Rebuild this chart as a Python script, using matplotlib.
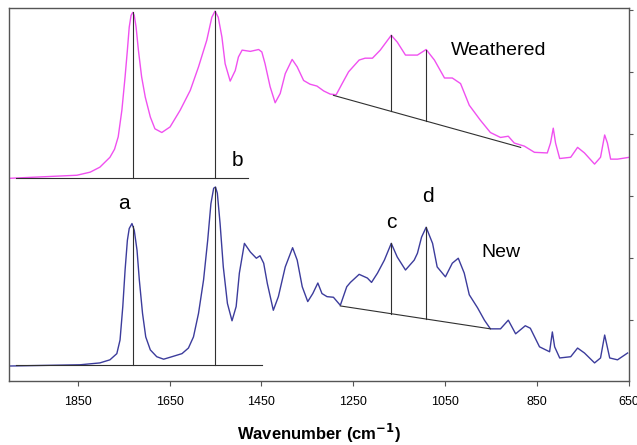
import numpy as np
import matplotlib
matplotlib.use("Agg")
import matplotlib.pyplot as plt

plt.rcParams['font.family'] = ['Liberation Sans', 'DejaVu Sans']

# ---- Weathered spectrum (wavenumber, absorbance offset) ----
weathered_wn = [2000, 1852, 1823, 1802, 1780, 1770, 1762, 1754, 1747, 1742, 1738, 1734,
                1730, 1727, 1723, 1718, 1711, 1703, 1692, 1682, 1667, 1649, 1627, 1605,
                1587, 1569, 1558, 1551, 1544, 1536, 1529, 1518, 1507, 1500, 1492, 1474,
                1456, 1449, 1442, 1431, 1420, 1409, 1398, 1383, 1372, 1358, 1344, 1329,
                1314, 1300, 1287, 1274, 1260, 1237, 1224, 1208, 1191, 1167, 1154, 1136,
                1110, 1091, 1073, 1051, 1034, 1016, 997, 973, 951, 929, 912, 899, 877,
                855, 827, 820, 814, 809, 800, 776, 761, 746, 724, 711, 702, 696, 689,
                674, 648]
weathered_ab = [3.28, 3.33, 3.38, 3.46, 3.62, 3.75, 3.95, 4.38, 4.92, 5.35, 5.72, 5.91,
                5.96, 5.91, 5.72, 5.35, 4.92, 4.59, 4.27, 4.08, 4.02, 4.11, 4.38, 4.70,
                5.08, 5.51, 5.88, 5.98, 5.88, 5.56, 5.13, 4.85, 5.02, 5.24, 5.35, 5.33,
                5.36, 5.32, 5.13, 4.76, 4.50, 4.65, 4.97, 5.20, 5.08, 4.86, 4.80, 4.77,
                4.69, 4.64, 4.63, 4.81, 5.00, 5.19, 5.22, 5.22, 5.35, 5.59, 5.48, 5.27,
                5.27, 5.36, 5.19, 4.90, 4.90, 4.81, 4.46, 4.22, 4.02, 3.94, 3.96, 3.85, 3.80,
                3.70, 3.69, 3.85, 4.09, 3.85, 3.60, 3.62, 3.78, 3.69, 3.51, 3.62, 3.98, 3.85, 3.59,
                3.59, 3.62]

# ---- New spectrum ----
new_wn = [2000, 1845, 1802, 1780, 1765, 1758, 1752, 1747, 1742, 1738, 1732, 1727, 1721,
          1716, 1709, 1702, 1692, 1678, 1663, 1645, 1623, 1609, 1598, 1587, 1576, 1567,
          1560, 1554, 1550, 1546, 1540, 1533, 1524, 1514, 1505, 1498, 1487, 1474, 1461,
          1453, 1445, 1437, 1424, 1413, 1398, 1382, 1372, 1361, 1349, 1338, 1327, 1318,
          1307, 1293, 1278, 1264, 1256, 1237, 1219, 1210, 1197, 1182, 1167, 1154, 1136,
          1117, 1110, 1101, 1091, 1077, 1067, 1049, 1034, 1021, 1008, 997, 979, 964, 951,
          929, 912, 896, 875, 864, 844, 822, 816, 811, 800, 776, 761, 746, 724, 711, 702,
          691, 674, 652]
new_ab = [0.25, 0.27, 0.30, 0.35, 0.45, 0.67, 1.21, 1.80, 2.28, 2.47, 2.55, 2.44, 2.12,
          1.64, 1.10, 0.72, 0.51, 0.40, 0.36, 0.40, 0.45, 0.54, 0.72, 1.10, 1.64, 2.28,
          2.87, 3.12, 3.14, 3.04, 2.55, 1.85, 1.26, 0.98, 1.21, 1.75, 2.23, 2.09, 1.99,
          2.03, 1.91, 1.58, 1.15, 1.37, 1.85, 2.16, 1.96, 1.53, 1.29, 1.42, 1.59, 1.42,
          1.37, 1.36, 1.23, 1.53, 1.60, 1.73, 1.67, 1.60, 1.75, 1.96, 2.23, 2.01, 1.80,
          1.96, 2.07, 2.33, 2.49, 2.23, 1.85, 1.69, 1.91, 1.99, 1.75, 1.40, 1.19, 0.99, 0.85,
          0.85, 0.99, 0.77, 0.90, 0.86, 0.56, 0.48, 0.80, 0.56, 0.38, 0.40, 0.54, 0.46, 0.30, 0.38, 0.75,
          0.38, 0.35, 0.46]

# ---- annotation geometry (data units) ----
peak_ab_wn = [1730, 1551]          # bands a, b
peak_cd_wn = [1167, 1091]          # bands c, d
weathered_base_wn = [1293, 885]    # sloping baseline (weathered)
weathered_base_ab = [4.62, 3.78]
new_base_wn = [1278, 951]          # sloping baseline (new)
new_base_ab = [1.22, 0.85]
weathered_flat = dict(level=3.28, wn=[1985, 1479])
new_flat = dict(level=0.27, wn=[1985, 1448])

labels = ['a', 'b', 'c', 'd']
label_pos = [(1749, 2.88), (1503, 3.57), (1167, 2.57), (1086, 2.98)]
series_names = ['Weathered', 'New']
series_name_pos = [(933, 5.35), (929, 2.09)]

xticks = [1850, 1650, 1450, 1250, 1050, 850, 650]

fig = plt.figure(figsize=(6.37, 4.45), dpi=100)
ax = fig.add_axes([0.0141, 0.1427, 0.9726, 0.8393])

mag = '#F050F0'
blue = '#3C3C9C'
ann = '#303030'

ax.plot(weathered_wn, weathered_ab, color=mag, lw=1.0, solid_joinstyle='round')
ax.plot(new_wn, new_ab, color=blue, lw=1.0, solid_joinstyle='round')

# sloping baselines and c/d verticals
for bwn, bab, swn, sab in [(weathered_base_wn, weathered_base_ab, weathered_wn, weathered_ab),
                           (new_base_wn, new_base_ab, new_wn, new_ab)]:
    ax.plot(bwn, bab, color=ann, lw=0.8)
    for p in peak_cd_wn:
        top = np.interp(p, swn[::-1], sab[::-1])
        bot = np.interp(p, bwn[::-1], bab[::-1])
        ax.plot([p, p], [bot, top], color=ann, lw=0.8)

# flat baselines and a/b verticals
for flat, swn, sab in [(weathered_flat, weathered_wn, weathered_ab), (new_flat, new_wn, new_ab)]:
    ax.plot(flat['wn'], [flat['level']] * 2, color=ann, lw=0.8)
    for p in peak_ab_wn:
        top = np.interp(p, swn[::-1], sab[::-1])
        ax.plot([p, p], [flat['level'], top], color=ann, lw=0.8)

for lab, (x, y) in zip(labels, label_pos):
    ax.text(x, y, lab, ha='center', va='center', fontsize=15, color='black')
for nm, (x, y) in zip(series_names, series_name_pos):
    ax.text(x, y, nm, ha='center', va='center', fontsize=14, color='black')

ax.set_xlim(2000, 650)
ax.set_ylim(0, 6.03)
ax.set_xticks(xticks)
ax.set_xticklabels([str(t) for t in xticks], fontsize=9)
ax.tick_params(axis='x', direction='out', length=3.5, width=0.8, color='#555555', pad=7)
ax.yaxis.tick_right()
ax.set_yticks([1, 2, 3, 4, 5, 6])
ax.tick_params(axis='y', direction='out', length=3, width=0.8, color='#555555', labelright=False)
for s in ax.spines.values():
    s.set_color('#555555')
    s.set_linewidth(1.0)

ax.set_xlabel('Wavenumber (cm$^{\\mathbf{-1}}$)', fontsize=12, fontweight='bold', labelpad=10)

fig.savefig('out.png', dpi=100)
